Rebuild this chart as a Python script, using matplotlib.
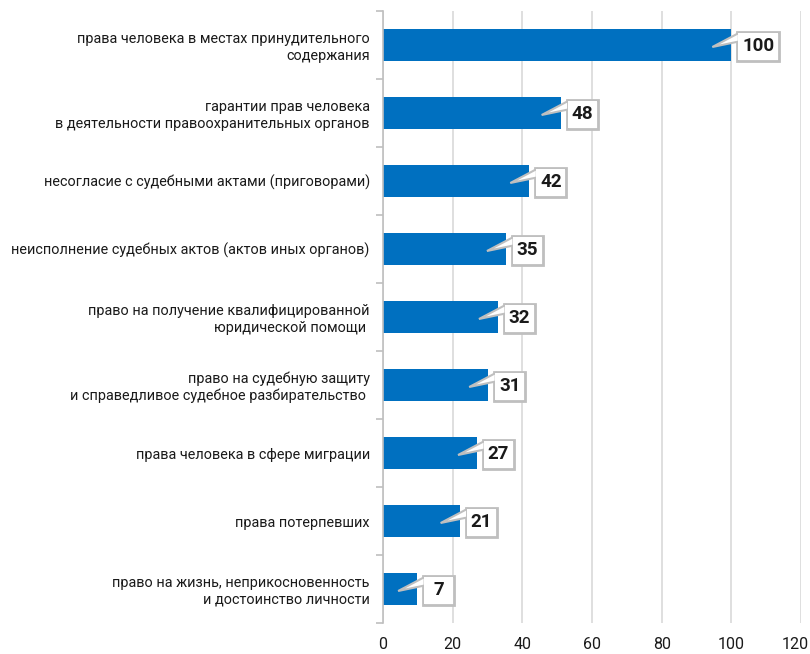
import matplotlib
matplotlib.use("Agg")
import matplotlib.pyplot as plt
from matplotlib.patches import Rectangle, Polygon
from matplotlib.transforms import ScaledTranslation
import numpy as np

plt.rcParams['font.family'] = ['Roboto', 'DejaVu Sans']

categories = [
    "права человека в местах принудительного\nсодержания",
    "гарантии прав человека\nв деятельности правоохранительных органов",
    "несогласие с судебными актами (приговорами)",
    "неисполнение судебных актов (актов иных органов)",
    "право на получение квалифицированной\nюридической помощи ",
    "право на судебную защиту\nи справедливое судебное разбирательство ",
    "права человека в сфере миграции",
    "права потерпевших",
    "право на жизнь, неприкосновенность\nи достоинство личности",
]
bar_lengths = [100, 51, 42, 35.3, 33, 30.2, 27, 22, 9.8]
label_values = [100, 48, 42, 35, 32, 31, 27, 21, 7]
x_ticks = [0, 20, 40, 60, 80, 100, 120]

BLUE = "#0070C0"
GRAY = "#BFBFBF"
GRID = "#D9D9D9"
TXT = "#1a1a1a"

fig = plt.figure(figsize=(8.10, 6.54), dpi=100)
ax = fig.add_axes([383/810, 1 - 623/654, (801-383)/810, (623-11)/654])

n = len(categories)
y = np.arange(n)
ax.barh(y, bar_lengths, height=0.46, color=BLUE, zorder=2)
ax.set_ylim(n - 0.5, -0.5)
ax.set_xlim(0, 120)

ax.set_yticks(y)
ax.set_yticklabels(categories, fontsize=10.4, color=TXT, linespacing=1.2)
ax.tick_params(axis='y', which='major', length=0, pad=9.5)
ax.set_yticks(np.arange(n + 1) - 0.5, minor=True)
ax.tick_params(axis='y', which='minor', length=5, color=GRAY, width=1.2)
for t in ax.get_yticklabels():
    t.set_horizontalalignment('right')

ax.set_xticks(x_ticks)
ax.set_xticklabels([str(v) for v in x_ticks], fontsize=11.5, color=TXT)
ax.tick_params(axis='x', length=0, pad=10)
xl = ax.get_xticklabels()
xl[-1].set_horizontalalignment('right')
xl[-1].set_transform(xl[-1].get_transform() + ScaledTranslation(0.08, 0, fig.dpi_scale_trans))
ax.grid(axis='x', color=GRID, linewidth=1.2, zorder=0)

for s in ['top', 'right', 'bottom']:
    ax.spines[s].set_visible(False)
ax.spines['left'].set_color(GRAY)
ax.spines['left'].set_linewidth(1.2)

for yi, bl, lv in zip(y, bar_lengths, label_values):
    txt = str(lv)
    w = max(31, 12 * len(txt) + 6)
    h = 29
    x0, y0 = 6, -h / 2 - 1
    ax_, ay_ = ax.transData.transform((bl, yi))
    wedge_pts = [(x0 + 1.5, y0 + h - 1.5), (x0 - 25, -2), (x0 + 1.5, y0 + h - 10)]
    rect = Rectangle((ax_ + x0, ay_ + y0), w, h, transform=None,
                     facecolor='white', edgecolor=GRAY, linewidth=2, zorder=4)
    fig.patches.append(rect)
    wedge = Polygon([(ax_ + a, ay_ + b) for a, b in wedge_pts],
                    closed=True, transform=None, facecolor='white', edgecolor=GRAY,
                    linewidth=1.5, zorder=5)
    fig.patches.append(wedge)
    cover = Rectangle((ax_ + x0 + 1, ay_ + y0 + 1), w - 2, h - 2, transform=None,
                      facecolor='white', edgecolor='none', zorder=6)
    fig.patches.append(cover)
    fig.text((ax_ + x0 + w / 2) / fig.bbox.width,
             (ay_ + y0 + h / 2) / fig.bbox.height,
             txt, ha='center', va='center', fontsize=13.5, fontweight='bold',
             color=TXT, zorder=7)

fig.savefig("out.png", dpi=100)
